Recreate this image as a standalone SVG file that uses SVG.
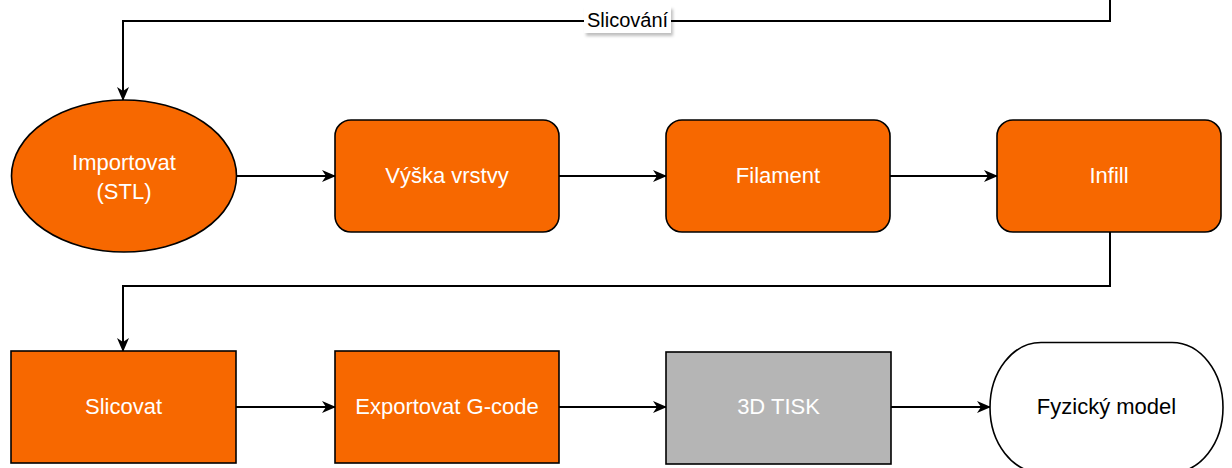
<svg xmlns="http://www.w3.org/2000/svg" width="1232" height="468" viewBox="0 0 1232 468">
  <defs>
    <marker id="arrow" viewBox="0 0 14 12" refX="13" refY="6" markerWidth="14" markerHeight="12" markerUnits="userSpaceOnUse" orient="auto">
      <path d="M0,0 L14,6 L0,12 L4,6 Z" fill="#000"/>
    </marker>
    <filter id="shadow" x="-20%" y="-20%" width="150%" height="160%">
      <feDropShadow dx="2" dy="3" stdDeviation="1.5" flood-color="#000" flood-opacity="0.25"/>
    </filter>
  </defs>
  <style>
    .orange { fill: #f76800; stroke: #000; stroke-width: 1.6; }
    .grey { fill: #b5b5b5; stroke: #000; stroke-width: 1.6; }
    .white { fill: #fff; stroke: #000; stroke-width: 1.6; }
    .lt { font-family: "Liberation Sans", Arial, sans-serif; font-size: 22px; fill: #fff; text-anchor: middle; }
    .dt { font-family: "Liberation Sans", Arial, sans-serif; font-size: 22px; fill: #000; text-anchor: middle; }
    .edge { fill: none; stroke: #000; stroke-width: 2; }
    .lbl { font-family: "Liberation Sans", Arial, sans-serif; font-size: 20px; fill: #000; text-anchor: middle; }
  </style>
  <rect width="1232" height="468" fill="#fff"/>

  <g id="connectors">
    <path class="edge" d="M1110,0 L1110,21 L123,21 L123,100" marker-end="url(#arrow)"/>
    <rect x="584" y="6" width="87" height="27" fill="#fff" filter="url(#shadow)"/>
    <text class="lbl" x="627.5" y="27">Slicování</text>
    <path class="edge" d="M236,176 L335,176" marker-end="url(#arrow)"/>
    <path class="edge" d="M559,176 L666,176" marker-end="url(#arrow)"/>
    <path class="edge" d="M890,176 L997,176" marker-end="url(#arrow)"/>
    <path class="edge" d="M1110,232 L1110,286 L123,286 L123,351" marker-end="url(#arrow)"/>
    <path class="edge" d="M236,407 L335,407" marker-end="url(#arrow)"/>
    <path class="edge" d="M559,407 L666,407" marker-end="url(#arrow)"/>
    <path class="edge" d="M891,407 L990,407" marker-end="url(#arrow)"/>
  </g>

  <g id="importovat">
    <ellipse class="orange" cx="124" cy="176" rx="112.5" ry="76"/>
    <text class="lt" x="124" y="170">Importovat</text>
    <text class="lt" x="124" y="199">(STL)</text>
  </g>
  <g id="vyska">
    <rect class="orange" x="335" y="120" width="224" height="112" rx="16"/>
    <text class="lt" x="447" y="182.5">Výška vrstvy</text>
  </g>
  <g id="filament">
    <rect class="orange" x="666" y="120" width="224" height="112" rx="16"/>
    <text class="lt" x="778" y="182.5">Filament</text>
  </g>
  <g id="infill">
    <rect class="orange" x="997" y="120" width="224" height="112" rx="16"/>
    <text class="lt" x="1109" y="182.5">Infill</text>
  </g>
  <g id="slicovat">
    <rect class="orange" x="11" y="351" width="225" height="112"/>
    <text class="lt" x="123.5" y="414">Slicovat</text>
  </g>
  <g id="exportovat">
    <rect class="orange" x="335" y="351" width="224" height="112"/>
    <text class="lt" x="447" y="414">Exportovat G-code</text>
  </g>
  <g id="tisk">
    <rect class="grey" x="666" y="352" width="225" height="112"/>
    <text class="lt" x="778.5" y="414">3D TISK</text>
  </g>
  <g id="fyzicky">
    <path class="white" d="M1041,342.5 L1172,342.5 A51,65 0 0 1 1172,472.5 L1041,472.5 A51,65 0 0 1 1041,342.5 Z"/>
    <text class="dt" x="1106.5" y="414">Fyzický model</text>
  </g>
</svg>
